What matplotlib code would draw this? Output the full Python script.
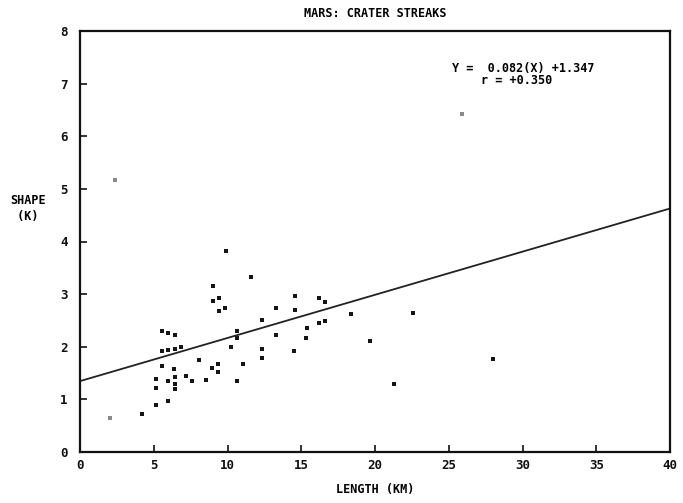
import matplotlib
matplotlib.use("Agg")
import matplotlib.pyplot as plt
import numpy as np

# streak length (km) vs shape factor K
length_km = [9.87, 11.59, 9.01, 9.44, 8.99, 9.85, 9.42, 10.64, 5.53, 5.98,
             6.44, 10.66, 10.27, 5.53, 5.98, 6.41, 6.82, 8.04, 9.37, 11.07,
             5.53, 8.97, 6.39, 9.35, 7.18, 5.13, 5.96, 6.41, 7.59, 8.54,
             10.64, 6.41, 5.13, 6.41, 5.94, 5.13, 4.22, 14.57, 16.19, 16.62,
             13.26, 14.57, 12.35, 18.36, 22.58, 16.19, 16.62, 15.38, 13.26, 15.33,
             12.35, 12.35, 14.54, 19.65, 21.27, 28.03]
shape_k = [3.81, 3.33, 3.16, 2.92, 2.87, 2.74, 2.68, 2.30, 2.30, 2.26,
           2.23, 2.17, 2.00, 1.91, 1.93, 1.96, 1.99, 1.74, 1.67, 1.67,
           1.64, 1.59, 1.57, 1.52, 1.45, 1.39, 1.35, 1.42, 1.35, 1.36,
           1.35, 1.30, 1.22, 1.19, 0.96, 0.89, 0.72, 2.96, 2.92, 2.85,
           2.74, 2.70, 2.50, 2.63, 2.64, 2.46, 2.49, 2.36, 2.22, 2.16,
           1.95, 1.78, 1.92, 2.11, 1.30, 1.76]

# lightly printed points
faint_length = [2.03, 2.37, 25.9]
faint_shape = [0.65, 5.16, 6.42]

slope = 0.082
intercept = 1.347
r_value = 0.350

x_ticks = [0, 5, 10, 15, 20, 25, 30, 35, 40]
y_ticks = [0, 1, 2, 3, 4, 5, 6, 7, 8]

plt.rcParams['font.family'] = ['DejaVu Sans Mono']
plt.rcParams['font.weight'] = 'bold'

fig = plt.figure(figsize=(6.83, 5.03), dpi=100)
ax = fig.add_axes([80 / 683, 51 / 503, 590 / 683, 421 / 503])

ax.scatter(length_km, shape_k, marker='s', s=7, color='#151515', linewidths=0)
ax.scatter(faint_length, faint_shape, marker='s', s=6, color='#8a8a8a', linewidths=0)

fit_x = np.array([x_ticks[0], x_ticks[-1]])
ax.plot(fit_x, slope * fit_x + intercept, color='#222222', lw=1.3)

ax.set_xlim(0, 40)
ax.set_ylim(0, 8)
ax.set_xticks(x_ticks)
ax.set_yticks(y_ticks)
ax.tick_params(direction='in', length=5, width=1.2, labelsize=9, colors='#111111')
ax.tick_params(axis='x', pad=5)
ax.tick_params(axis='y', pad=9)
for spine in ax.spines.values():
    spine.set_linewidth(1.6)
    spine.set_color('#111111')

ax.set_title("MARS: CRATER STREAKS", fontsize=8.5, fontweight='bold', pad=10)
ax.set_xlabel("LENGTH (KM)", fontsize=8.5, fontweight='bold', labelpad=8)
ax.text(-0.119, 0.578, "SHAPE\n (K)", transform=ax.transAxes, fontsize=8.5,
        fontweight='bold', ha='left', va='center', linespacing=1.3)

ax.text(25.2, 7.29, f"Y =  {slope:.3f}(X) +{intercept:.3f}", fontsize=8.5,
        fontweight='bold', va='center')
ax.text(27.2, 7.05, f"r = +{r_value:.3f}", fontsize=8.5,
        fontweight='bold', va='center')

fig.savefig("out.png", dpi=100, facecolor='white')
